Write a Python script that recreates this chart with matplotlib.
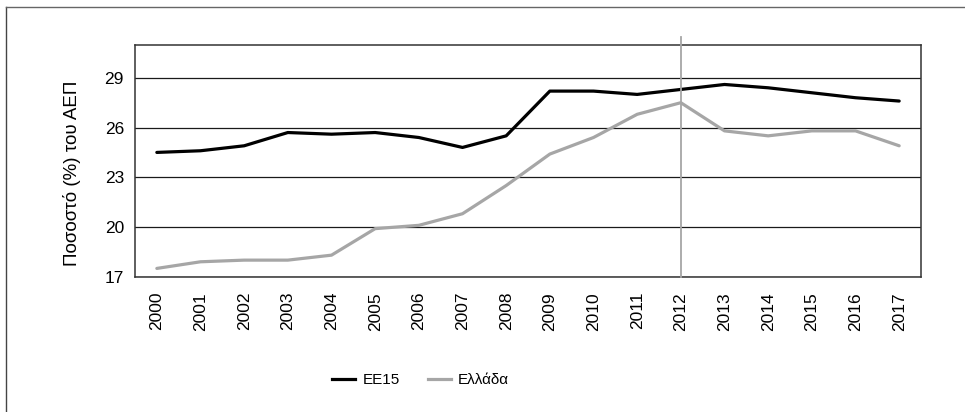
import matplotlib
matplotlib.use("Agg")
import matplotlib.pyplot as plt
from matplotlib.lines import Line2D

plt.rcParams["font.family"] = ["Liberation Sans", "DejaVu Sans"]

# data
years = list(range(2000, 2018))
ee15 = [24.5, 24.6, 24.9, 25.7, 25.6, 25.7, 25.4, 24.8, 25.5,
        28.2, 28.2, 28.0, 28.3, 28.6, 28.4, 28.1, 27.8, 27.6]
greece = [17.5, 17.9, 18.0, 18.0, 18.3, 19.9, 20.1, 20.8, 22.5,
          24.4, 25.4, 26.8, 27.5, 25.8, 25.5, 25.8, 25.8, 24.9]
y_ticks = [17, 20, 23, 26, 29]
marker_year = 2012
series_names = ["EE15", "Ελλάδα"]
ylabel = "Ποσοστό (%) του ΑΕΠ"

BLACK = "#000000"
GREY = "#a6a6a6"

fig = plt.figure(figsize=(9.65, 4.12), dpi=100)
ax = fig.add_axes([0.1399, 0.3284, 0.8145, 0.5631])

x = list(range(len(years)))
ax.plot(x, ee15, color=BLACK, linewidth=2.3, solid_capstyle="round", zorder=4)
ax.plot(x, greece, color=GREY, linewidth=2.3, solid_capstyle="round", zorder=3)

# vertical marker line (sticks a little above the plot box)
ax.axvline(years.index(marker_year), ymin=0, ymax=1.033, color=GREY,
           linewidth=1.3, clip_on=False, zorder=5)

ax.set_xlim(-0.5, len(years) - 0.5)
ax.set_ylim(17, 31)
ax.set_yticks(y_ticks)
ax.set_yticklabels([str(v) for v in y_ticks], fontsize=12.5)
ax.set_xticks(x)
ax.set_xticklabels([str(y) for y in years], rotation=90, fontsize=12.5)
ax.tick_params(axis="y", length=0, pad=8)
ax.tick_params(axis="x", length=0, pad=11)
ax.yaxis.grid(True, color="#1a1a1a", linewidth=0.9)
ax.set_axisbelow(True)
for s in ax.spines.values():
    s.set_color("#333333")
    s.set_linewidth(1.1)

ax.set_ylabel(ylabel, fontsize=13.5)
ax.yaxis.set_label_coords(-0.069, 0.445)

handles = [Line2D([], [], color=BLACK, linewidth=2.3),
           Line2D([], [], color=GREY, linewidth=2.3)]
fig.legend(handles, series_names, loc="center", bbox_to_anchor=(0.436, 0.077),
           ncol=2, frameon=False, fontsize=11, handlelength=1.5,
           columnspacing=1.8, handletextpad=0.5)

# outer frame (top and left edges only are visible)
fig.add_artist(Line2D([0.0067, 0.0067], [0, 0.9818], transform=fig.transFigure,
                      color="#444444", linewidth=1.0))
fig.add_artist(Line2D([0.0067, 1.0], [0.9818, 0.9818], transform=fig.transFigure,
                      color="#666666", linewidth=1.0))

fig.savefig("out.png", dpi=100)
